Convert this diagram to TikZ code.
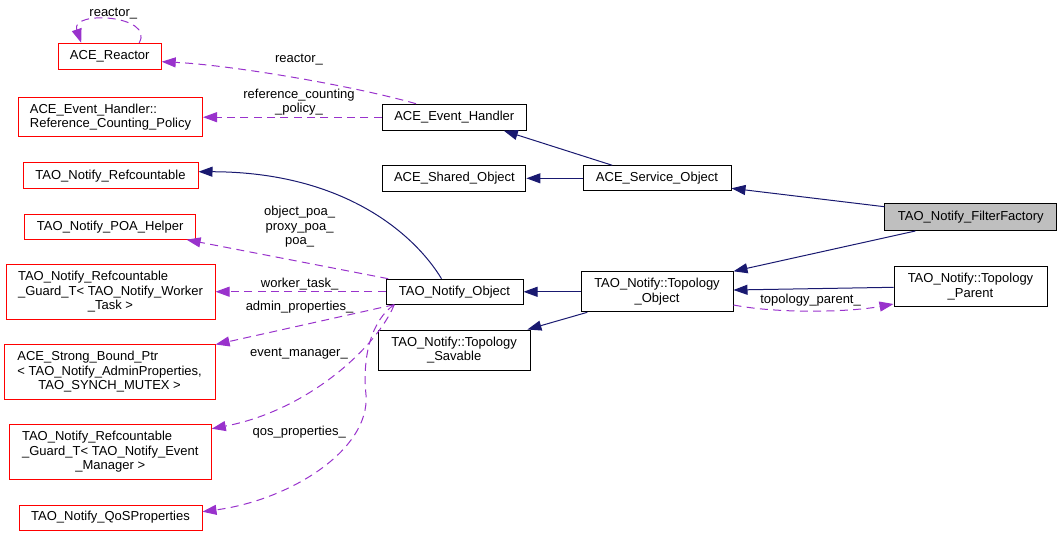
\documentclass[tikz,border=0pt]{standalone}
\usepackage{fontspec}
\setmainfont{Liberation Sans}
\usetikzlibrary{calc,arrows.meta}
\definecolor{isablue}{RGB}{25,25,112}
\definecolor{hasapurple}{RGB}{153,50,204}
\def\lline#1#2{\rlap{#1}\phantom{#2}}

\begin{document}
\begin{tikzpicture}[x=0.75pt, y=-0.75pt,
	cls/.style={draw=black, fill=white, line width=0.75pt, inner sep=0pt, align=center, font=\fontsize{9.75}{11}\selectfont},
	trunc/.style={cls, draw=red},
	focus/.style={cls, fill=black!25},
	sz/.style 2 args={minimum width=#1*0.75pt, minimum height=#2*0.75pt},
	lbl/.style={inner sep=0pt, align=center, font=\fontsize{9.75}{11}\selectfont},
	isa/.style={draw=isablue, line width=0.75pt, -{Triangle[length=10.5pt,width=7.5pt]}},
	hasa/.style={draw=hasapurple, line width=0.75pt, dash pattern=on 6pt off 4pt, -{Triangle[length=10.5pt,width=7.5pt]}}]
			%%%%% START %%%%%
			\useasboundingbox (0, 0) rectangle (1061, 536);
			
			% left column
			\node[trunc, sz={103}{26}] (reac) at (109.7, 56.3) {ACE\_Reactor};
			\node[trunc, sz={184}{39}] (rcp) at (110.5, 117) {\lline{ACE\_Event\_Handler::}{Reference\_Counting\_Policy}\\Reference\_Counting\_Policy};
			\node[trunc, sz={175}{26}] (refc) at (110.5, 175.7) {TAO\_Notify\_Refcountable};
			\node[trunc, sz={171}{25}] (poa) at (110.2, 226.7) {TAO\_Notify\_POA\_Helper};
			\node[trunc, sz={209}{55}] (gwt) at (110.5, 291.8) {\lline{TAO\_Notify\_Refcountable}{\_Guard\_T< TAO\_Notify\_Worker}\\\_Guard\_T< TAO\_Notify\_Worker\\\_Task >};
			\node[trunc, sz={211}{55}] (sbp) at (109.6, 371.8) {\lline{ACE\_Strong\_Bound\_Ptr}{< TAO\_Notify\_AdminProperties,}\\< TAO\_Notify\_AdminProperties,\\TAO\_SYNCH\_MUTEX >};
			\node[trunc, sz={202}{55}] (gem) at (110.3, 451.7) {\lline{TAO\_Notify\_Refcountable}{\_Guard\_T< TAO\_Notify\_Event}\\\_Guard\_T< TAO\_Notify\_Event\\\_Manager >};
			\node[trunc, sz={183}{25}] (qos) at (110.5, 517.5) {TAO\_Notify\_QoSProperties};
			
			% middle column
			\node[cls, sz={144}{26}] (eh) at (454.3, 117.2) {ACE\_Event\_Handler};
			\node[cls, sz={143}{26}] (shob) at (454.4, 178.2) {ACE\_Shared\_Object};
			\node[cls, sz={137}{25}] (tno) at (454.5, 291.7) {TAO\_Notify\_Object};
			\node[cls, sz={152}{40}] (tsav) at (454.2, 350) {TAO\_Notify::Topology\\\_Savable};
			
			\node[cls, sz={148}{25}] (svc) at (657, 178.3) {ACE\_Service\_Object};
			\node[cls, sz={152}{40}] (tobj) at (657, 291.8) {TAO\_Notify::Topology\\\_Object};
			
			% right column
			\node[focus, sz={172}{27}] (ff) at (970.8, 217) {TAO\_Notify\_FilterFactory};
			\node[cls, sz={153}{40}] (tpar) at (970.5, 286.7) {TAO\_Notify::Topology\\\_Parent};
			
			% inheritance
			\draw[isa] ($(svc.north west)+(29.8, 0)$) -- ($(eh.south east)+(-23, 0)$);
			\draw[isa] (svc.west) -- (svc.west -| shob.east);
			\draw[isa] ($(ff.west)+(0, -10.3)$) -- ($(svc.east)+(0, 10)$);
			\draw[isa] ($(ff.south west)+(31, 0)$) -- (tobj.north east);
			\draw[isa] ($(tpar.west)+(0, 0.6)$) -- ($(tobj.east)+(0, -1.8)$);
			\draw[isa] (tobj.west) -- (tobj.west -| tno.east);
			\draw[isa] ($(tobj.south west)+(6.8, 0)$) -- ($(tsav.north east)+(-3.3, 0)$);
			\draw[isa] ($(tno.north west)+(56, 0)$) .. controls (415, 235) and (345, 172) .. ($(refc.east)+(0, -4)$);
			
			% members
			\draw[hasa] ($(reac.north west)+(81.5, 0)$) .. controls (155, 15) and (70, 10) .. ($(reac.north west)+(23.5, 0)$);
			\node[lbl] (lreacself) at (113.3, 13.3) {reactor\_};
			
			\draw[hasa] ($(eh.north west)+(34.2, 0)$) .. controls (350, 85) and (230, 65) .. ($(reac.east)+(0, 5.4)$);
			\node[lbl] (lreac) at (299, 60) {reactor\_};
			
			\draw[hasa] (eh.west) -- (eh.west -| rcp.east);
			\node[lbl] (lrcp) at (299, 102) {reference\_counting\\\_policy\_};
			
			\draw[hasa] ($(tno.north west)+(2.7, 0)$) -- ($(poa.south east)+(-9.6, 0)$);
			\node[lbl] (lpoa) at (299.6, 226.7) {object\_poa\_\\proxy\_poa\_\\poa\_};
			
			\draw[hasa] (tno.west) -- (tno.west -| gwt.east);
			\node[lbl] (lwt) at (299.6, 284) {worker\_task\_};
			
			\draw[hasa] ($(tno.south west)+(8.7, 0)$) -- ($(sbp.north east)+(0, 0.7)$);
			\node[lbl] (lap) at (299.6, 306.7) {admin\_properties\_};
			
			\draw[hasa] ($(tno.south west)+(8.7, 0)$) .. controls (378, 345) and (310, 410) .. ($(gem.north east)+(0, 5)$);
			\node[lbl] (lem) at (299, 353.3) {event\_manager\_};
			
			\draw[hasa] ($(tno.south west)+(8.7, 0)$) .. controls (372, 320) and (362, 355) .. (366, 395)
				.. controls (370, 450) and (290, 500) .. ($(qos.east)+(0, -5.8)$);
			\node[lbl] (lqos) at (299.2, 432.3) {qos\_properties\_};
			
			\draw[hasa] ($(tobj.east)+(0, 13.2)$) .. controls (780, 314) and (850, 312) .. ($(tpar.west)+(0, 17.3)$);
			\node[lbl] (ltp) at (810.6, 300) {topology\_parent\_};
			%%%%% END %%%%%
		\end{tikzpicture}
\end{document}
